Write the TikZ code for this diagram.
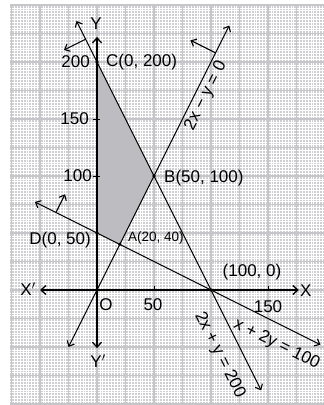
\documentclass[tikz,border=0pt]{standalone}
\usepackage{fontspec}
\setmainfont{Liberation Sans}
\usetikzlibrary{arrows.meta}
\definecolor{paper}{HTML}{CFCFD2}
\definecolor{major}{HTML}{C6C6CA}
\definecolor{region}{HTML}{BDBDC1}
\begin{document}
\begin{tikzpicture}[x=1pt,y=1pt,
  lab/.style={font=\fontsize{17}{20}\selectfont, inner sep=0pt},
  smalllab/.style={font=\fontsize{13.5}{16}\selectfont, inner sep=0pt},
  barb/.style={line width=1.1pt, {Straight Barb[length=4.5pt,width=8pt]}-{Straight Barb[length=4.5pt,width=8pt]}},
  onebarb/.style={line width=1.1pt, -{Straight Barb[length=4.5pt,width=8pt]}},
  axisline/.style={line width=1.3pt, {Straight Barb[length=5pt,width=9pt]}-{Straight Barb[length=5pt,width=9pt]}},
  tick/.style={line width=0.9pt},
  dot/.style={circle, fill=black, inner sep=0pt, minimum size=3.6pt}]
\useasboundingbox (0,0) rectangle (324,405);
\fill[paper] (10,0) rectangle (324,400);
\begin{scope}[shift={(97,115)}, x=1.14pt, y=1.14pt]
  \begin{scope}
    \clip (-76.3,-100.9) rectangle (199.2,250);
    \draw[white, line width=0.45pt, step=2.5] (-80,-105) grid (205,255);
    \draw[major, line width=1.8pt, step=25] (-100,-125) grid (225,275);
  \end{scope}
  % key points
  \coordinate (O) at (0,0);
  \coordinate (C) at (0,200);
  \coordinate (B) at (50,100);
  \coordinate (A) at (20,40);
  \coordinate (D) at (0,50);
  \coordinate (P) at (100,0);
  % feasible region
  \fill[region] (C) -- (B) -- (A) -- (D) -- cycle;
  % axis ends
  \coordinate (xl) at (-50,0);
  \coordinate (xr) at (177,0);
  \coordinate (yt) at (0,222);
  \coordinate (yb) at (0,-51);
  \draw[axisline] (xl) -- (xr);
  \draw[axisline] (yb) -- (yt);
  % ticks
  \coordinate (t50) at (50,0);
  \coordinate (t150) at (150,0);
  \coordinate (s100) at (0,100);
  \coordinate (s150) at (0,150);
  \draw[tick] (t50) -- ++(0,4pt);
  \draw[tick] (t150) -- ++(0,4pt);
  \draw[tick] ([xshift=-4pt]s100) -- ([xshift=3pt]s100);
  \draw[tick] ([xshift=-4pt]s150) -- ([xshift=3pt]s150);
  % line 2x + y = 200
  \coordinate (l1a) at (-18,236);
  \coordinate (l1b) at (144,-88);
  \draw[barb] (l1a) -- (l1b);
  % line 2x - y = 0
  \coordinate (l2a) at (-25,-50);
  \coordinate (l2b) at (116,232);
  \draw[barb] (l2a) -- (l2b);
  % line x + 2y = 100
  \coordinate (l3a) at (-54.5,77.25);
  \coordinate (l3b) at (196,-48);
  \draw[barb] (l3a) -- (l3b);
  % direction arrows
  \coordinate (n1s) at (-10,220);
  \coordinate (n1e) at (-29,210.5);
  \draw[onebarb] (n1s) -- (n1e);
  \coordinate (n2s) at (104,208);
  \coordinate (n2e) at (82,219);
  \draw[onebarb] (n2s) -- (n2e);
  \coordinate (n3s) at (-36,68);
  \coordinate (n3e) at (-28,84);
  \draw[onebarb] (n3s) -- (n3e);
  % dots
  \node[dot] (Cd) at (C) {};
  \node[dot] (Bd) at (B) {};
  \node[dot] (Ad) at (A) {};
  \node[dot] (Dd) at (D) {};
  \node[dot] (Pd) at (P) {};
  % point labels
  \node[lab, anchor=west] (Cl) at ([xshift=9pt]C) {C(0, 200)};
  \node[lab, anchor=west] (Bl) at ([xshift=10pt,yshift=-2pt]B) {B(50, 100)};
  \node[smalllab, anchor=west] (Al) at ([xshift=8pt,yshift=6pt]A) {A(20, 40)};
  \node[lab, anchor=east] (Dl) at ([xshift=-6pt,yshift=-7pt]D) {D(0, 50)};
  \node[lab] (Pl) at ([xshift=41pt,yshift=18pt]P) {(100, 0)};
  \node[lab] (Ol) at ([xshift=9pt,yshift=-15pt]O) {O};
  % tick labels
  \node[lab, anchor=east] (y200) at ([xshift=-7pt]C) {200};
  \node[lab, anchor=east] (y150) at ([xshift=-8pt]s150) {150};
  \node[lab, anchor=east] (y100) at ([xshift=-5pt]s100) {100};
  \node[lab] (x50) at ([xshift=-1pt,yshift=-15pt]t50) {50};
  \node[lab] (x150) at ([yshift=-17pt]t150) {150};
  % axis labels
  \node[lab] (Xm) at ([xshift=-12pt,yshift=1pt]xl) {X$'$};
  \node[lab] (Xp) at ([xshift=7pt,yshift=-1pt]xr) {X};
  \node[lab] (Yp) at ([xshift=-1pt,yshift=13pt]yt) {Y};
  \node[lab] (Ym) at ([xshift=1pt,yshift=-13pt]yb) {Y$'$};
  % line labels
  \node[lab, rotate=63.43] (e2) at (95.6,170.2) {2x − y = 0};
  \node[lab, rotate=-63.43] (e1) at (107.5,-57) {2x + y = 200};
  \node[lab, rotate=-26.57] (e3) at (157.5,-47.8) {x + 2y = 100};
\end{scope}
\end{tikzpicture}
\end{document}
